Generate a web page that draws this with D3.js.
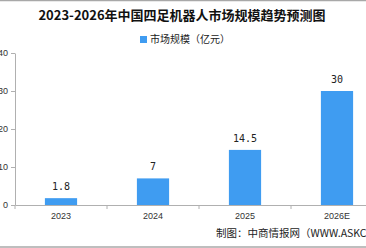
<!DOCTYPE html>
<html>
<head>
<meta charset="utf-8">
<script src="https://cdn.jsdelivr.net/npm/d3@7"></script>
<style>
  body { margin: 0; background: #fff; }
  svg { display: block; }
  .axis path, .axis line { stroke: #b0b0b0; }
  .axis text { fill: #333; font-family: "Liberation Sans", Arial, sans-serif; font-size: 9px; }
</style>
</head>
<body>
<div id="chart"></div>
<script>
// data
const categories = ["2023", "2024", "2025", "2026E"];
const values = [1.8, 7, 14.5, 30];
const valueLabels = ["1.8", "7", "14.5", "30"];
const yTicks = [0, 10, 20, 30, 40];

const W = 366, H = 248;
const margin = {top: 53, left: 15, bottom: 43};
const plotW = 368; // plot runs past the right edge, like the original

const svg = d3.select("#chart").append("svg")
    .attr("width", W)
    .attr("height", H);

// frame lines top and bottom
svg.append("line").attr("x1", 0).attr("x2", W).attr("y1", 0.5).attr("y2", 0.5)
    .attr("stroke", "#a8a8a8").attr("stroke-width", 1.5);
svg.append("line").attr("x1", 0).attr("x2", W).attr("y1", 247).attr("y2", 247)
    .attr("stroke", "#a8a8a8").attr("stroke-width", 1.5);

// title
svg.append("text")
    .attr("x", 182).attr("y", 20)
    .attr("text-anchor", "middle")
    .style("font-family", "'Noto Sans CJK SC', sans-serif")
    .style("font-weight", "bold")
    .style("font-size", "13px")
    .style("fill", "#111")
    .text("2023-2026年中国四足机器人市场规模趋势预测图");

// scales
const x = d3.scaleBand()
    .domain(categories)
    .range([margin.left, margin.left + plotW]);

const y = d3.scaleLinear()
    .domain([0, 40])
    .range([205, 53]);

// y axis
svg.append("g")
    .attr("class", "axis")
    .attr("transform", `translate(${margin.left},0)`)
    .call(d3.axisLeft(y).tickValues(yTicks).tickSize(4).tickSizeOuter(0).tickPadding(3));

// x axis (labels only, boundary ticks drawn below)
const xg = svg.append("g")
    .attr("class", "axis")
    .attr("transform", `translate(0,${y(0)})`)
    .call(d3.axisBottom(x).tickSize(0).tickPadding(8));

xg.selectAll(".tick.bound")
    .data(categories)
    .enter().append("line")
    .attr("x1", d => x(d)).attr("x2", d => x(d))
    .attr("y1", 0).attr("y2", 4)
    .attr("stroke", "#b0b0b0");

// bars
const barW = x.bandwidth() * 0.35;
svg.selectAll(".bar")
    .data(values)
    .enter().append("rect")
    .attr("class", "bar")
    .attr("x", (d, i) => x(categories[i]) + (x.bandwidth() - barW) / 2)
    .attr("y", d => y(d))
    .attr("width", barW)
    .attr("height", d => y(0) - y(d))
    .attr("fill", "#3f9cf1");

// value labels
svg.selectAll(".vlabel")
    .data(values)
    .enter().append("text")
    .attr("class", "vlabel")
    .attr("x", (d, i) => x(categories[i]) + x.bandwidth() / 2)
    .attr("y", d => y(d) - 8)
    .attr("text-anchor", "middle")
    .style("font-family", "'DejaVu Sans Mono', monospace")
    .style("font-size", "10px")
    .style("fill", "#222")
    .text((d, i) => valueLabels[i]);

// legend
svg.append("rect")
    .attr("x", 140).attr("y", 36)
    .attr("width", 7).attr("height", 7)
    .attr("fill", "#3f9cf1");
svg.append("text")
    .attr("x", 150).attr("y", 43)
    .style("font-family", "'Noto Sans CJK SC', sans-serif")
    .style("font-size", "10px")
    .style("fill", "#222")
    .text("市场规模（亿元）");

// source note
svg.append("text")
    .attr("x", 216).attr("y", 237)
    .style("font-family", "'Noto Sans CJK SC', sans-serif")
    .style("font-size", "10.5px")
    .style("fill", "#222")
    .text("制图：中商情报网（WWW.ASKCI.COM）");
</script>
</body>
</html>
